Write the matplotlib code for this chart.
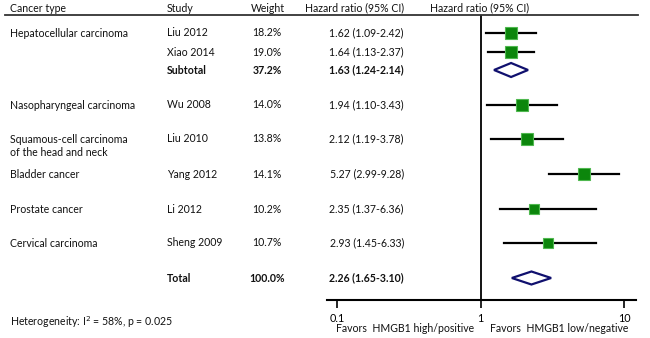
import numpy as np
import matplotlib.pyplot as plt
from matplotlib.patches import Polygon

plt.rcParams['font.family'] = ['Lato', 'DejaVu Sans']

# data
cancer_types = ["Hepatocellular carcinoma", "", "", "Nasopharyngeal carcinoma",
                "Squamous-cell carcinoma\nof the head and neck", "Bladder cancer",
                "Prostate cancer", "Cervical carcinoma", ""]
studies = ["Liu 2012", "Xiao 2014", "Subtotal", "Wu 2008", "Liu 2010",
           "Yang 2012", "Li 2012", "Sheng 2009", "Total"]
weights = [18.2, 19.0, 37.2, 14.0, 13.8, 14.1, 10.2, 10.7, 100.0]
hr = [1.62, 1.64, 1.63, 1.94, 2.12, 5.27, 2.35, 2.93, 2.26]
lo = [1.09, 1.13, 1.24, 1.10, 1.19, 2.99, 1.37, 1.45, 1.65]
hi = [2.42, 2.37, 2.14, 3.43, 3.78, 9.28, 6.36, 6.33, 3.10]
pooled = [False, False, True, False, False, False, False, False, True]

# layout (pixels from top of figure)
row_y = [33, 52, 70, 105, 139, 174, 209, 243, 278]
W, H = 650, 338
top_px, bot_px = 15, 300

fig = plt.figure(figsize=(6.5, 3.38), dpi=100)
ax = fig.add_axes([327 / W, 1 - bot_px / H, (636 - 327) / W, (bot_px - top_px) / H])
ax.set_xscale('log')
ax.set_xlim(0.085, 12.1)
ax.set_ylim(bot_px, top_px)
for s in ['top', 'right', 'left']:
    ax.spines[s].set_visible(False)
ax.spines['bottom'].set_linewidth(1.5)
ax.set_yticks([])
ax.set_xticks([0.1, 1, 10])
ax.set_xticklabels(['0.1', '1', '10'])
ax.xaxis.set_minor_locator(plt.NullLocator())
ax.tick_params(axis='x', length=6, width=1.2, labelsize=7.8, pad=3)
ax.axvline(1, color='black', lw=1.3)

green = '#0c860c'
for i in range(len(studies)):
    y = row_y[i]
    if pooled[i]:
        dh = 7 if i == 2 else 6.5
        d = Polygon([(lo[i], y), (hr[i], y - dh), (hi[i], y), (hr[i], y + dh)],
                    closed=True, facecolor='white', edgecolor='#10106e', lw=1.6, zorder=3)
        ax.add_patch(d)
    else:
        ax.plot([lo[i], hi[i]], [y, y], color='black', lw=1.6, zorder=2)
        ax.plot(hr[i], y, 's', ms=5.6 + 0.19 * weights[i], mfc=green, mec='#4fb84f',
                mew=0.8, zorder=3)

fs = 7.6
def tx(x, y, s, **kw):
    fig.text(x / W, 1 - y / H, s, fontsize=fs, va='center', color='#111111', **kw)

# header
tx(10, 8, "Cancer type")
tx(167, 8, "Study")
tx(268, 8, "Weight", ha='center')
tx(404, 8, "Hazard ratio (95% CI)", ha='right')
tx(480, 8, "Hazard ratio (95% CI)", ha='center')
fig.add_artist(plt.Line2D([5 / W, 638 / W], [1 - 15 / H, 1 - 15 / H],
                          color='#333333', lw=1.3))

for i in range(len(studies)):
    y = row_y[i]
    bold = 'bold' if pooled[i] else 'normal'
    if cancer_types[i]:
        fig.text(10 / W, 1 - (y - 5) / H, cancer_types[i], fontsize=fs, va='top',
                 color='#111111', linespacing=1.25)
    tx(167, y, studies[i], fontweight=bold)
    tx(267, y, f"{weights[i]:.1f}%", ha='center', fontweight=bold)
    tx(404, y, f"{hr[i]:.2f} ({lo[i]:.2f}-{hi[i]:.2f})", ha='right', fontweight=bold)

tx(10, 322, "Heterogeneity: I$^2$ = 58%, p = 0.025")
tx(474, 328, "Favors  HMGB1 high/positive", ha='right')
tx(490, 328, "Favors  HMGB1 low/negative", ha='left')

fig.savefig("out.png", dpi=100)
